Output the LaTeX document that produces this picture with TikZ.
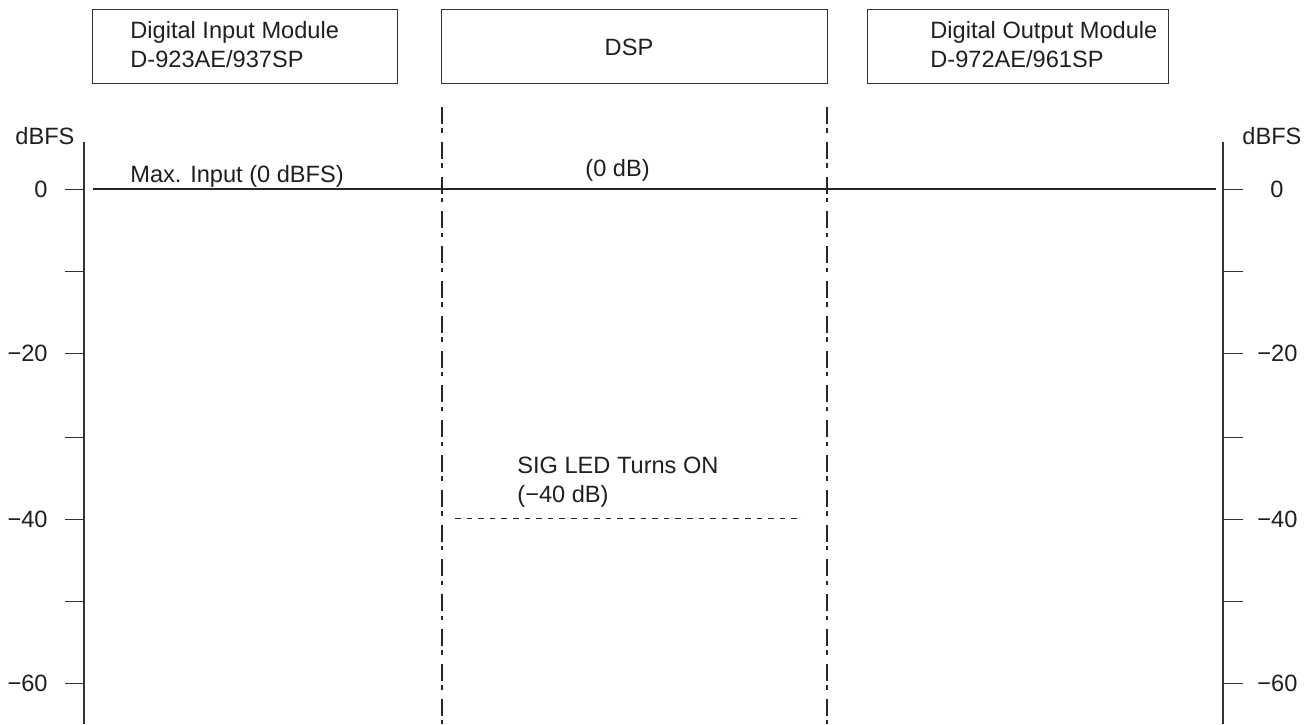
\documentclass[tikz,border=0pt]{standalone}
\usepackage{fontspec}
\setmainfont{Liberation Sans}
\begin{document}
\begin{tikzpicture}[x=0.5pt,y=-0.5pt,
  every node/.style={font=\fontsize{11.8pt}{14.5pt}\selectfont, inner sep=0pt, text=black!88},
  modbox/.style={draw=black!80, line width=0.5pt, minimum width=#1*0.5pt, minimum height=74*0.5pt, anchor=north west},
  axisline/.style={draw=black!80, line width=0.6pt},
  tickline/.style={draw=black!80, line width=0.5pt},
  levelline/.style={draw=black!85, line width=1.3pt},
  divline/.style={draw=black!85, line width=0.55pt, dash pattern=on 8.5pt off 2.2pt on 2.2pt off 4.5pt},
  ledline/.style={draw=black!85, line width=0.5pt, dash pattern=on 2.8pt off 3pt},
  lbl/.style={anchor=base west},
  rlbl/.style={anchor=base east}
]
\useasboundingbox (0,0) rectangle (1316,724);

% module boxes
\node[modbox=305] (inbox) at (92,9) {};
\node[modbox=386] (dspbox) at (441,9) {};
\node[modbox=301] (outbox) at (867,9) {};
\node[lbl, align=left] (intext) at (130,67) {Digital Input Module\\D-923AE/937SP};
\node[anchor=base] (dsptext) at (629,55) {DSP};
\node[lbl, align=left] (outtext) at (930,67) {Digital Output Module\\D-972AE/961SP};

% axes
\coordinate (la0) at (84,142); \coordinate (la1) at (84,724);
\coordinate (ra0) at (1223,142); \coordinate (ra1) at (1223,724);
\draw[axisline] (la0) -- (la1);
\draw[axisline] (ra0) -- (ra1);
\node[lbl] (ldbfs) at (15,144) {dBFS};
\node[lbl] (rdbfs) at (1242,144) {dBFS};

% ticks
\foreach \y/\n in {189/0,271/1,353/2,437/3,519/4,601/5,683/6}{
  \coordinate (lt\n) at (65,\y); \coordinate (lta\n) at (84,\y);
  \coordinate (rt\n) at (1243,\y); \coordinate (rta\n) at (1223,\y);
  \draw[tickline] (lt\n) -- (lta\n);
  \draw[tickline] (rta\n) -- (rt\n);
}
\node[rlbl] (l0) at (48,197) {0};
\node[rlbl] (l20) at (48,361) {−20};
\node[rlbl] (l40) at (48,527) {−40};
\node[rlbl] (l60) at (48,691) {−60};
\node[lbl] (r0) at (1270,197) {0};
\node[lbl] (r20) at (1257,361) {−20};
\node[lbl] (r40) at (1257,527) {−40};
\node[lbl] (r60) at (1257,691) {−60};

% dividers
\coordinate (d1a) at (442,107); \coordinate (d1b) at (442,724);
\coordinate (d2a) at (827,107); \coordinate (d2b) at (827,724);
\draw[divline] (d1a) -- (d1b);
\draw[divline] (d2a) -- (d2b);

% max level line
\coordinate (m0) at (93,189); \coordinate (m1) at (1216,189);
\draw[levelline] (m0) -- (m1);
\node[lbl] (maxin) at (130,182) {Max. Input (0 dBFS)};
\node[lbl] (zerodb) at (585,176) {(0 dB)};

% SIG LED
\node[lbl, align=left] (sig) at (517,502) {SIG LED Turns ON\\(−40 dB)};
\coordinate (s0) at (455,518); \coordinate (s1) at (803,518);
\draw[ledline] (s0) -- (s1);
\end{tikzpicture}
\end{document}
